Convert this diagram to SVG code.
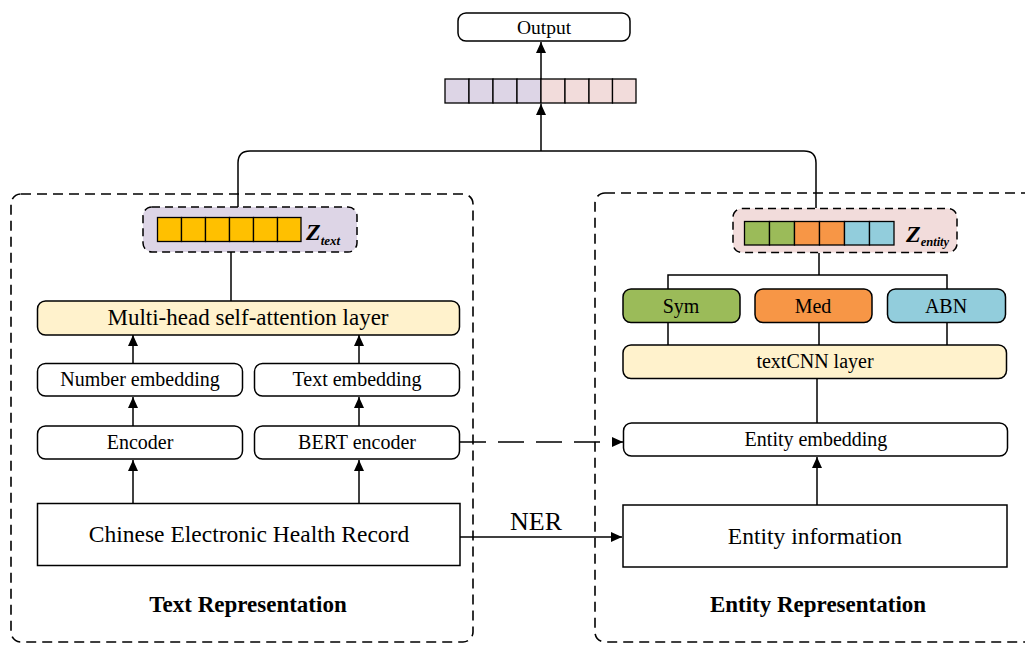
<svg xmlns="http://www.w3.org/2000/svg" width="1025" height="645" viewBox="0 0 1025 645">
<style>
text{font-family:"Liberation Serif","Times New Roman",serif;fill:#000;text-anchor:middle}
.n{stroke:#000;stroke-width:1.5}
.w{fill:#fff}
.y{fill:#FFF2CC}
.c{stroke:#000;stroke-width:1.3}
.dash{fill:none;stroke:#000;stroke-width:1.6;stroke-dasharray:10,6}
.ln{fill:none;stroke:#000;stroke-width:1.5}
.t20{font-size:20px}
.b{font-weight:bold;font-size:23px}
</style>
<defs>
<marker id="ah" markerUnits="userSpaceOnUse" markerWidth="12" markerHeight="10" refX="11" refY="5" orient="auto">
<path d="M0,0 L11,5 L0,10 Z" fill="#000"/>
</marker>
</defs>

<g id="text-representation-frame">
<rect class="dash" x="11" y="194" width="462" height="448" rx="10"/>
<text class="b" x="248" y="612">Text Representation</text>
</g>
<g id="entity-representation-frame">
<rect class="dash" x="595" y="193" width="500" height="449" rx="10"/>
<text class="b" x="818" y="612">Entity Representation</text>
</g>

<g id="connectors">
<path class="ln" d="M238,208 V163 Q238,151 250,151 H804 Q816,151 816,163 V208"/>
<path class="ln" d="M541,151 V104" marker-end="url(#ah)"/>
<path class="ln" d="M541,79 V42" marker-end="url(#ah)"/>
<path class="ln" d="M231,252 V301"/>
<path class="ln" d="M133,363 V335" marker-end="url(#ah)"/>
<path class="ln" d="M359,363 V335" marker-end="url(#ah)"/>
<path class="ln" d="M133,426 V397" marker-end="url(#ah)"/>
<path class="ln" d="M359,426 V397" marker-end="url(#ah)"/>
<path class="ln" d="M133,503 V460" marker-end="url(#ah)"/>
<path class="ln" d="M359,503 V460" marker-end="url(#ah)"/>
<path class="ln" d="M460,442 H623" stroke-dasharray="26,12" marker-end="url(#ah)"/>
<path class="ln" d="M460,537 H622" marker-end="url(#ah)"/>
<text x="536" y="530" style="font-size:26px">NER</text>
<path class="ln" d="M819,253 V275 M668,289 V275 H947 V289"/>
<path class="ln" d="M668,323 V345 M819,323 V345 M947,323 V345"/>
<path class="ln" d="M817,378 V423"/>
<path class="ln" d="M817,505 V457" marker-end="url(#ah)"/>
</g>

<g id="output">
<rect class="n w" x="458" y="13" width="172" height="28" rx="8"/>
<text class="t20" x="544" y="33.5" style="font-size:19.5px">Output</text>
</g>

<g id="fused-vector">
<rect class="c" x="445" y="79" width="24" height="24" fill="#DDD5E6"/>
<rect class="c" x="469" y="79" width="24" height="24" fill="#DDD5E6"/>
<rect class="c" x="493" y="79" width="24" height="24" fill="#DDD5E6"/>
<rect class="c" x="517" y="79" width="24" height="24" fill="#DDD5E6"/>
<rect class="c" x="541" y="79" width="24" height="24" fill="#F2DCDB"/>
<rect class="c" x="565" y="79" width="24" height="24" fill="#F2DCDB"/>
<rect class="c" x="589" y="79" width="23.5" height="24" fill="#F2DCDB"/>
<rect class="c" x="612.5" y="79" width="23.5" height="24" fill="#F2DCDB"/>
</g>

<g id="z-text">
<rect x="143" y="207" width="214" height="45" rx="9" fill="#DDD5E6" stroke="#000" stroke-width="1.5" stroke-dasharray="8,5"/>
<rect class="c" x="157.5" y="217.5" width="24" height="24" fill="#FFC000"/>
<rect class="c" x="181.5" y="217.5" width="24" height="24" fill="#FFC000"/>
<rect class="c" x="205.5" y="217.5" width="24" height="24" fill="#FFC000"/>
<rect class="c" x="229.5" y="217.5" width="24" height="24" fill="#FFC000"/>
<rect class="c" x="253.5" y="217.5" width="24" height="24" fill="#FFC000"/>
<rect class="c" x="277.5" y="217.5" width="23.5" height="24" fill="#FFC000"/>
<text x="306" y="240" style="font-size:24px;font-weight:bold;font-style:italic;text-anchor:start">Z<tspan dy="5" style="font-size:13px">text</tspan></text>
</g>

<g id="z-entity">
<rect x="733" y="208.5" width="224" height="44" rx="9" fill="#F2DCDB" stroke="#000" stroke-width="1.5" stroke-dasharray="8,5"/>
<rect class="c" x="744.5" y="221.5" width="25" height="23.5" fill="#9BBB59"/>
<rect class="c" x="769.5" y="221.5" width="25" height="23.5" fill="#9BBB59"/>
<rect class="c" x="794.5" y="221.5" width="25" height="23.5" fill="#F79646"/>
<rect class="c" x="819.5" y="221.5" width="25" height="23.5" fill="#F79646"/>
<rect class="c" x="844.5" y="221.5" width="25" height="23.5" fill="#92CDDC"/>
<rect class="c" x="869.5" y="221.5" width="24.5" height="23.5" fill="#92CDDC"/>
<text x="906" y="242" style="font-size:24px;font-weight:bold;font-style:italic;text-anchor:start">Z<tspan dy="4" style="font-size:12.5px">entity</tspan></text>
</g>

<g id="mhsa">
<rect class="n y" x="37.5" y="301" width="422" height="34" rx="8"/>
<text x="248" y="325" style="font-size:23px">Multi-head self-attention layer</text>
</g>
<g id="number-embedding">
<rect class="n w" x="37.5" y="363.5" width="205" height="32.5" rx="8"/>
<text class="t20" x="140" y="386">Number embedding</text>
</g>
<g id="text-embedding">
<rect class="n w" x="254.5" y="363.5" width="205" height="32.5" rx="8"/>
<text class="t20" x="357" y="386">Text embedding</text>
</g>
<g id="encoder">
<rect class="n w" x="37.5" y="426" width="205" height="33" rx="8"/>
<text class="t20" x="140" y="449">Encoder</text>
</g>
<g id="bert-encoder">
<rect class="n w" x="254.5" y="426" width="205" height="33" rx="8"/>
<text class="t20" x="357" y="449">BERT encoder</text>
</g>
<g id="cehr">
<rect class="n w" x="37.5" y="503.5" width="422.5" height="62" />
<text x="249" y="542" style="font-size:23.5px">Chinese Electronic Health Record</text>
</g>

<g id="sym">
<rect class="n" x="623" y="289" width="117" height="33.5" rx="8" fill="#9BBB59"/>
<text class="t20" x="681" y="312.5">Sym</text>
</g>
<g id="med">
<rect class="n" x="755" y="289" width="117" height="33.5" rx="8" fill="#F79646"/>
<text class="t20" x="813" y="312.5">Med</text>
</g>
<g id="abn">
<rect class="n" x="887.5" y="289" width="118" height="33.5" rx="8" fill="#92CDDC"/>
<text class="t20" x="946" y="312.5">ABN</text>
</g>
<g id="textcnn">
<rect class="n y" x="623" y="345" width="383.5" height="33.5" rx="8"/>
<text class="t20" x="815" y="368">textCNN layer</text>
</g>
<g id="entity-embedding">
<rect class="n w" x="623.5" y="423" width="384" height="33" rx="8"/>
<text class="t20" x="816" y="446">Entity embedding</text>
</g>
<g id="entity-information">
<rect class="n w" x="623" y="505" width="384" height="62"/>
<text x="815" y="543.5" style="font-size:23.5px">Entity information</text>
</g>
</svg>
